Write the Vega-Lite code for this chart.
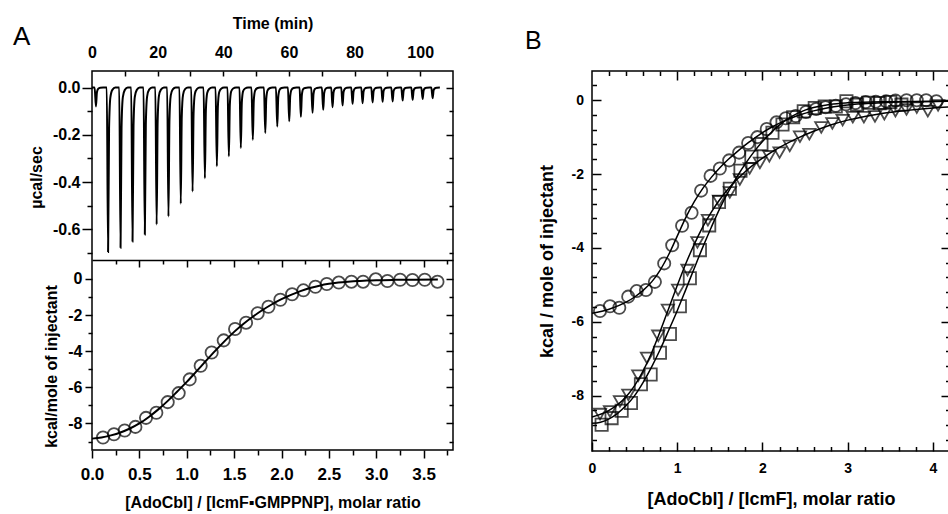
{
"$schema": "https://vega.github.io/schema/vega-lite/v6.json",
"padding": {"left": 12, "top": 14, "right": 0, "bottom": 0},
"background": "white",
"config": {
  "view": {"stroke": "black", "strokeWidth": 1.5},
  "font": "Liberation Sans",
  "axis": {"domain": false, "grid": false, "labelFont": "Liberation Sans", "labelFontWeight": "bold", "labelColor": "black", "labelFontSize": 16, "titleFont": "Liberation Sans", "titleFontWeight": "bold", "titleFontSize": 16, "titleColor": "black", "tickColor": "black", "tickWidth": 1.5, "labelFlush": false, "labelOverlap": false},
  "title": {"font": "Liberation Sans", "fontWeight": "normal", "color": "black"}
},
"datasets": {
  "trace": [
    {"t":0,"v":0},
    {"t":0.8,"v":0},{"t":1.2,"v":-0.08},{"t":1.5,"v":-0.02},{"t":1.9,"v":-0.005},{"t":2.5,"v":-0.001},{"t":3.4,"v":0},
    {"t":4.5,"v":0},{"t":4.9,"v":-0.696},{"t":5.2,"v":-0.174},{"t":5.6,"v":-0.042},{"t":6.2,"v":-0.01},{"t":7.1,"v":0},
    {"t":8.3,"v":0},{"t":8.7,"v":-0.678},{"t":9.0,"v":-0.17},{"t":9.4,"v":-0.041},{"t":10.0,"v":-0.01},{"t":10.9,"v":0},
    {"t":11.95,"v":0},{"t":12.35,"v":-0.652},{"t":12.65,"v":-0.163},{"t":13.05,"v":-0.039},{"t":13.65,"v":-0.01},{"t":14.55,"v":0},
    {"t":15.7,"v":0},{"t":16.1,"v":-0.622},{"t":16.4,"v":-0.156},{"t":16.8,"v":-0.037},{"t":17.4,"v":-0.009},{"t":18.3,"v":0},
    {"t":19.3,"v":0},{"t":19.7,"v":-0.58},{"t":20.0,"v":-0.145},{"t":20.4,"v":-0.035},{"t":21.0,"v":-0.009},{"t":21.9,"v":0},
    {"t":22.9,"v":0},{"t":23.3,"v":-0.546},{"t":23.6,"v":-0.137},{"t":24.0,"v":-0.033},{"t":24.6,"v":-0.008},{"t":25.5,"v":0},
    {"t":26.65,"v":0},{"t":27.05,"v":-0.492},{"t":27.35,"v":-0.123},{"t":27.75,"v":-0.03},{"t":28.35,"v":-0.007},{"t":29.25,"v":0},
    {"t":30.25,"v":0},{"t":30.65,"v":-0.44},{"t":30.95,"v":-0.11},{"t":31.35,"v":-0.026},{"t":31.95,"v":-0.007},{"t":32.85,"v":0},
    {"t":34.0,"v":0},{"t":34.4,"v":-0.384},{"t":34.7,"v":-0.096},{"t":35.1,"v":-0.023},{"t":35.7,"v":-0.006},{"t":36.6,"v":0},
    {"t":37.65,"v":0},{"t":38.05,"v":-0.333},{"t":38.35,"v":-0.083},{"t":38.75,"v":-0.02},{"t":39.35,"v":-0.005},{"t":40.25,"v":0},
    {"t":41.3,"v":0},{"t":41.7,"v":-0.291},{"t":42.0,"v":-0.073},{"t":42.4,"v":-0.017},{"t":43.0,"v":-0.004},{"t":43.9,"v":0},
    {"t":44.95,"v":0},{"t":45.35,"v":-0.256},{"t":45.65,"v":-0.064},{"t":46.05,"v":-0.015},{"t":46.65,"v":-0.004},{"t":47.55,"v":0},
    {"t":48.6,"v":0},{"t":49.0,"v":-0.221},{"t":49.3,"v":-0.055},{"t":49.7,"v":-0.013},{"t":50.3,"v":-0.003},{"t":51.2,"v":0},
    {"t":52.4,"v":0},{"t":52.8,"v":-0.192},{"t":53.1,"v":-0.048},{"t":53.5,"v":-0.012},{"t":54.1,"v":-0.003},{"t":55.0,"v":0},
    {"t":56.05,"v":0},{"t":56.45,"v":-0.165},{"t":56.75,"v":-0.041},{"t":57.15,"v":-0.01},{"t":57.75,"v":-0.002},{"t":58.65,"v":0},
    {"t":59.7,"v":0},{"t":60.1,"v":-0.143},{"t":60.4,"v":-0.036},{"t":60.8,"v":-0.009},{"t":61.4,"v":-0.002},{"t":62.3,"v":0},
    {"t":63.25,"v":0},{"t":63.65,"v":-0.124},{"t":63.95,"v":-0.031},{"t":64.35,"v":-0.007},{"t":64.95,"v":-0.002},{"t":65.85,"v":0},
    {"t":66.8,"v":0},{"t":67.2,"v":-0.107},{"t":67.5,"v":-0.027},{"t":67.9,"v":-0.006},{"t":68.5,"v":-0.002},{"t":69.4,"v":0},
    {"t":70.05,"v":0},{"t":70.45,"v":-0.094},{"t":70.75,"v":-0.024},{"t":71.15,"v":-0.006},{"t":71.75,"v":-0.001},{"t":72.65,"v":0},
    {"t":72.9,"v":0},{"t":73.3,"v":-0.083},{"t":73.6,"v":-0.021},{"t":74.0,"v":-0.005},{"t":74.6,"v":-0.001},{"t":75.5,"v":0},
    {"t":75.95,"v":0},{"t":76.35,"v":-0.076},{"t":76.65,"v":-0.019},{"t":77.05,"v":-0.005},{"t":77.65,"v":-0.001},{"t":78.55,"v":0},
    {"t":79.0,"v":0},{"t":79.4,"v":-0.069},{"t":79.7,"v":-0.017},{"t":80.1,"v":-0.004},{"t":80.7,"v":-0.001},{"t":81.6,"v":0},
    {"t":82.05,"v":0},{"t":82.45,"v":-0.066},{"t":82.75,"v":-0.017},{"t":83.15,"v":-0.004},{"t":83.75,"v":-0.001},{"t":84.65,"v":0},
    {"t":85.1,"v":0},{"t":85.5,"v":-0.063},{"t":85.8,"v":-0.016},{"t":86.2,"v":-0.004},{"t":86.8,"v":-0.001},{"t":87.7,"v":0},
    {"t":88.15,"v":0},{"t":88.55,"v":-0.06},{"t":88.85,"v":-0.015},{"t":89.25,"v":-0.004},{"t":89.85,"v":-0.001},{"t":90.75,"v":0},
    {"t":91.2,"v":0},{"t":91.6,"v":-0.059},{"t":91.9,"v":-0.015},{"t":92.3,"v":-0.004},{"t":92.9,"v":-0.001},{"t":93.8,"v":0},
    {"t":94.25,"v":0},{"t":94.65,"v":-0.055},{"t":94.95,"v":-0.014},{"t":95.35,"v":-0.003},{"t":95.95,"v":-0.001},{"t":96.85,"v":0},
    {"t":97.3,"v":0},{"t":97.7,"v":-0.052},{"t":98.0,"v":-0.013},{"t":98.4,"v":-0.003},{"t":99.0,"v":-0.001},{"t":99.9,"v":0},
    {"t":100.35,"v":0},{"t":100.75,"v":-0.048},{"t":101.05,"v":-0.012},{"t":101.45,"v":-0.003},{"t":102.05,"v":-0.001},{"t":102.95,"v":0},
    {"t":103.4,"v":0},{"t":103.8,"v":-0.045},{"t":104.1,"v":-0.011},{"t":104.5,"v":-0.003},{"t":105.1,"v":-0.001},{"t":106.0,"v":0}
  ],
  "itcA": [
    {"x":0.116,"y":-8.78},{"x":0.232,"y":-8.60},{"x":0.345,"y":-8.39},{"x":0.458,"y":-8.19},{"x":0.570,"y":-7.69},
    {"x":0.679,"y":-7.41},{"x":0.799,"y":-6.82},{"x":0.915,"y":-6.32},{"x":1.031,"y":-5.56},{"x":1.147,"y":-4.81},
    {"x":1.263,"y":-4.07},{"x":1.390,"y":-3.40},{"x":1.510,"y":-2.77},{"x":1.626,"y":-2.42},{"x":1.749,"y":-1.90},
    {"x":1.862,"y":-1.54},{"x":1.988,"y":-1.15},{"x":2.112,"y":-0.85},{"x":2.231,"y":-0.63},{"x":2.358,"y":-0.43},
    {"x":2.478,"y":-0.28},{"x":2.605,"y":-0.20},{"x":2.738,"y":-0.15},{"x":2.861,"y":-0.15},{"x":2.995,"y":-0.02},
    {"x":3.118,"y":-0.11},{"x":3.252,"y":-0.04},{"x":3.382,"y":-0.06},{"x":3.512,"y":-0.04},{"x":3.646,"y":-0.15}
  ],
  "fitA": [
    {"x":0,"y":-8.84},{"x":0.1,"y":-8.78},{"x":0.2,"y":-8.66},{"x":0.3,"y":-8.50},{"x":0.4,"y":-8.28},{"x":0.5,"y":-8.00},
    {"x":0.6,"y":-7.64},{"x":0.7,"y":-7.22},{"x":0.8,"y":-6.75},{"x":0.9,"y":-6.23},{"x":1.0,"y":-5.70},{"x":1.1,"y":-5.13},
    {"x":1.2,"y":-4.55},{"x":1.3,"y":-3.98},{"x":1.4,"y":-3.44},{"x":1.5,"y":-2.93},{"x":1.6,"y":-2.48},{"x":1.7,"y":-2.08},
    {"x":1.8,"y":-1.72},{"x":1.9,"y":-1.40},{"x":2.0,"y":-1.12},{"x":2.1,"y":-0.88},{"x":2.2,"y":-0.67},{"x":2.3,"y":-0.50},
    {"x":2.4,"y":-0.37},{"x":2.5,"y":-0.27},{"x":2.6,"y":-0.20},{"x":2.7,"y":-0.15},{"x":2.8,"y":-0.11},{"x":2.9,"y":-0.09},
    {"x":3.0,"y":-0.07},{"x":3.2,"y":-0.05},{"x":3.4,"y":-0.04},{"x":3.65,"y":-0.03}
  ],
  "bpts": [
    {"s":"c","x":0.094,"y":-5.71},{"s":"c","x":0.211,"y":-5.58},{"s":"c","x":0.320,"y":-5.62},{"s":"c","x":0.425,"y":-5.32},
    {"s":"c","x":0.524,"y":-5.17},{"s":"c","x":0.633,"y":-5.14},{"s":"c","x":0.738,"y":-4.92},{"s":"c","x":0.847,"y":-4.42},
    {"s":"c","x":0.941,"y":-3.93},{"s":"c","x":1.057,"y":-3.40},{"s":"c","x":1.168,"y":-3.05},{"s":"c","x":1.280,"y":-2.45},
    {"s":"c","x":1.391,"y":-2.05},{"s":"c","x":1.500,"y":-1.85},{"s":"c","x":1.609,"y":-1.63},{"s":"c","x":1.726,"y":-1.42},
    {"s":"c","x":1.832,"y":-1.16},{"s":"c","x":1.940,"y":-1.00},{"s":"c","x":2.050,"y":-0.78},{"s":"c","x":2.165,"y":-0.60},
    {"s":"c","x":2.273,"y":-0.49},{"s":"c","x":2.390,"y":-0.43},{"s":"c","x":2.510,"y":-0.32},{"s":"c","x":2.630,"y":-0.24},
    {"s":"c","x":2.740,"y":-0.19},{"s":"c","x":2.860,"y":-0.15},{"s":"c","x":2.980,"y":-0.11},{"s":"c","x":3.090,"y":-0.08},
    {"s":"c","x":3.210,"y":-0.05},{"s":"c","x":3.330,"y":-0.04},{"s":"c","x":3.450,"y":-0.03},{"s":"c","x":3.560,"y":-0.01},
    {"s":"c","x":3.690,"y":0.0},{"s":"c","x":3.810,"y":0.0},{"s":"c","x":3.920,"y":0.0},{"s":"c","x":4.040,"y":-0.03},
    {"s":"s","x":0.113,"y":-8.79},{"s":"s","x":0.230,"y":-8.61},{"s":"s","x":0.348,"y":-8.41},{"s":"s","x":0.457,"y":-8.20},
    {"s":"s","x":0.574,"y":-7.69},{"s":"s","x":0.688,"y":-7.43},{"s":"s","x":0.797,"y":-6.84},{"s":"s","x":0.914,"y":-6.33},
    {"s":"s","x":1.031,"y":-5.58},{"s":"s","x":1.148,"y":-4.82},{"s":"s","x":1.266,"y":-4.06},{"s":"s","x":1.375,"y":-3.39},
    {"s":"s","x":1.490,"y":-2.76},{"s":"s","x":1.617,"y":-2.40},{"s":"s","x":1.742,"y":-1.91},{"s":"s","x":1.870,"y":-1.53},
    {"s":"s","x":1.988,"y":-1.19},{"s":"s","x":2.117,"y":-0.88},{"s":"s","x":2.235,"y":-0.66},{"s":"s","x":2.360,"y":-0.46},
    {"s":"s","x":2.484,"y":-0.30},{"s":"s","x":2.613,"y":-0.21},{"s":"s","x":2.730,"y":-0.17},{"s":"s","x":2.860,"y":-0.17},
    {"s":"s","x":2.985,"y":-0.03},{"s":"s","x":3.110,"y":-0.12},{"s":"s","x":3.240,"y":-0.07},{"s":"s","x":3.375,"y":-0.08},
    {"s":"s","x":3.500,"y":-0.05},{"s":"s","x":3.630,"y":-0.12},
    {"s":"t","x":0.094,"y":-8.50},{"s":"t","x":0.211,"y":-8.43},{"s":"t","x":0.328,"y":-8.16},{"s":"t","x":0.426,"y":-7.98},
    {"s":"t","x":0.543,"y":-7.46},{"s":"t","x":0.645,"y":-6.98},{"s":"t","x":0.777,"y":-6.38},{"s":"t","x":0.890,"y":-5.68},
    {"s":"t","x":1.010,"y":-5.14},{"s":"t","x":1.120,"y":-4.60},{"s":"t","x":1.236,"y":-3.85},{"s":"t","x":1.360,"y":-3.25},
    {"s":"t","x":1.490,"y":-2.73},{"s":"t","x":1.617,"y":-2.50},{"s":"t","x":1.734,"y":-2.15},{"s":"t","x":1.850,"y":-1.85},
    {"s":"t","x":1.970,"y":-1.70},{"s":"t","x":2.080,"y":-1.52},{"s":"t","x":2.200,"y":-1.42},{"s":"t","x":2.320,"y":-1.24},
    {"s":"t","x":2.440,"y":-0.99},{"s":"t","x":2.550,"y":-0.92},{"s":"t","x":2.690,"y":-0.74},{"s":"t","x":2.820,"y":-0.63},
    {"s":"t","x":2.940,"y":-0.54},{"s":"t","x":3.060,"y":-0.46},{"s":"t","x":3.190,"y":-0.46},{"s":"t","x":3.320,"y":-0.44},
    {"s":"t","x":3.430,"y":-0.38},{"s":"t","x":3.560,"y":-0.30},{"s":"t","x":3.690,"y":-0.25},{"s":"t","x":3.810,"y":-0.20},
    {"s":"t","x":3.940,"y":-0.30},{"s":"t","x":4.060,"y":-0.14}
  ],
  "bfit": [
    {"s":"c","x":0,"y":-5.77},{"s":"c","x":0.2,"y":-5.66},{"s":"c","x":0.4,"y":-5.47},{"s":"c","x":0.5,"y":-5.33},
    {"s":"c","x":0.6,"y":-5.15},{"s":"c","x":0.7,"y":-4.92},{"s":"c","x":0.8,"y":-4.60},{"s":"c","x":0.9,"y":-4.18},
    {"s":"c","x":1.0,"y":-3.68},{"s":"c","x":1.1,"y":-3.18},{"s":"c","x":1.2,"y":-2.75},{"s":"c","x":1.3,"y":-2.39},
    {"s":"c","x":1.4,"y":-2.09},{"s":"c","x":1.5,"y":-1.83},{"s":"c","x":1.6,"y":-1.60},{"s":"c","x":1.7,"y":-1.40},
    {"s":"c","x":1.8,"y":-1.21},{"s":"c","x":1.9,"y":-1.04},{"s":"c","x":2.0,"y":-0.88},{"s":"c","x":2.1,"y":-0.74},
    {"s":"c","x":2.2,"y":-0.62},{"s":"c","x":2.4,"y":-0.43},{"s":"c","x":2.6,"y":-0.29},{"s":"c","x":2.8,"y":-0.19},
    {"s":"c","x":3.0,"y":-0.13},{"s":"c","x":3.3,"y":-0.08},{"s":"c","x":3.6,"y":-0.05},{"s":"c","x":4.2,"y":-0.03},
    {"s":"s","x":0,"y":-8.75},{"s":"s","x":0.1,"y":-8.72},{"s":"s","x":0.2,"y":-8.63},{"s":"s","x":0.3,"y":-8.48},
    {"s":"s","x":0.4,"y":-8.27},{"s":"s","x":0.5,"y":-8.00},{"s":"s","x":0.6,"y":-7.64},{"s":"s","x":0.7,"y":-7.22},
    {"s":"s","x":0.8,"y":-6.75},{"s":"s","x":0.9,"y":-6.23},{"s":"s","x":1.0,"y":-5.70},{"s":"s","x":1.1,"y":-5.13},
    {"s":"s","x":1.2,"y":-4.55},{"s":"s","x":1.3,"y":-3.98},{"s":"s","x":1.4,"y":-3.44},{"s":"s","x":1.5,"y":-2.93},
    {"s":"s","x":1.6,"y":-2.48},{"s":"s","x":1.7,"y":-2.08},{"s":"s","x":1.8,"y":-1.72},{"s":"s","x":1.9,"y":-1.40},
    {"s":"s","x":2.0,"y":-1.12},{"s":"s","x":2.1,"y":-0.88},{"s":"s","x":2.2,"y":-0.67},{"s":"s","x":2.3,"y":-0.50},
    {"s":"s","x":2.4,"y":-0.37},{"s":"s","x":2.5,"y":-0.27},{"s":"s","x":2.6,"y":-0.20},{"s":"s","x":2.7,"y":-0.15},
    {"s":"s","x":2.8,"y":-0.11},{"s":"s","x":3.0,"y":-0.07},{"s":"s","x":3.4,"y":-0.04},{"s":"s","x":4.2,"y":-0.03},
    {"s":"t","x":0,"y":-8.58},{"s":"t","x":0.2,"y":-8.40},{"s":"t","x":0.4,"y":-8.03},{"s":"t","x":0.5,"y":-7.73},
    {"s":"t","x":0.6,"y":-7.33},{"s":"t","x":0.7,"y":-6.84},{"s":"t","x":0.8,"y":-6.26},{"s":"t","x":0.9,"y":-5.64},
    {"s":"t","x":1.0,"y":-5.02},{"s":"t","x":1.1,"y":-4.43},{"s":"t","x":1.2,"y":-3.90},{"s":"t","x":1.3,"y":-3.43},
    {"s":"t","x":1.4,"y":-3.03},{"s":"t","x":1.5,"y":-2.69},{"s":"t","x":1.6,"y":-2.40},{"s":"t","x":1.7,"y":-2.15},
    {"s":"t","x":1.8,"y":-1.93},{"s":"t","x":1.9,"y":-1.74},{"s":"t","x":2.0,"y":-1.57},{"s":"t","x":2.2,"y":-1.28},
    {"s":"t","x":2.4,"y":-1.04},{"s":"t","x":2.6,"y":-0.84},{"s":"t","x":2.8,"y":-0.67},{"s":"t","x":3.0,"y":-0.54},
    {"s":"t","x":3.2,"y":-0.44},{"s":"t","x":3.4,"y":-0.36},{"s":"t","x":3.6,"y":-0.30},{"s":"t","x":3.8,"y":-0.25},
    {"s":"t","x":4.0,"y":-0.21},{"s":"t","x":4.2,"y":-0.18}
  ]
},
"hconcat": [
  {
    "width": 361, "height": 379,
    "title": {"text": "A", "anchor": "start", "frame": "group", "fontSize": 26, "fontWeight": "normal", "dx": -79, "dy": 38},
    "layer": [
      {
        "data": {"name": "trace"},
        "layer": [
          {"mark": {"type": "line", "color": "black", "strokeWidth": 2, "interpolate": "monotone"},
           "encoding": {
             "x": {"field": "t", "type": "quantitative", "scale": {"domain": [0, 110], "nice": false, "zero": false},
                   "axis": {"orient": "top", "values": [0, 20, 40, 60, 80, 100], "ticks": false, "labelPadding": 10.5, "title": "Time (min)", "titlePadding": 13}},
             "y": {"field": "v", "type": "quantitative", "scale": {"domain": [-1.534, 0.07], "nice": false, "zero": false},
                   "axis": {"orient": "left", "values": [0, -0.2, -0.4, -0.6], "format": ".1f", "labelExpr": "replace(datum.label, '−', '-')", "tickSize": 10, "labelPadding": 2, "title": "µcal/sec", "titlePadding": 8, "titleY": 106}}
           }},
          {"mark": {"type": "line", "opacity": 0},
           "encoding": {
             "x": {"field": "t", "type": "quantitative", "axis": {"orient": "top", "values": [10, 20, 30, 40, 50, 60, 70, 80, 90, 100], "tickSize": -5, "labels": false, "title": null}},
             "y": {"field": "v", "type": "quantitative", "axis": {"orient": "left", "values": [-0.1, -0.3, -0.5, -0.7], "tickSize": 5, "labels": false, "title": null}}
           }},
          {"mark": {"type": "line", "opacity": 0},
           "encoding": {
             "x": {"field": "t", "type": "quantitative", "axis": null},
             "y": {"field": "v", "type": "quantitative", "axis": {"orient": "right", "values": [0, -0.2, -0.4, -0.6], "tickSize": -7, "labels": false, "title": null}}
           }},
          {"mark": {"type": "line", "opacity": 0},
           "encoding": {
             "x": {"field": "t", "type": "quantitative", "axis": null},
             "y": {"field": "v", "type": "quantitative", "axis": {"orient": "right", "values": [-0.1, -0.3, -0.5, -0.7], "tickSize": -4, "labels": false, "title": null}}
           }}
        ],
        "resolve": {"axis": {"x": "independent", "y": "independent"}}
      },
      {
        "layer": [
          {"data": {"name": "itcA"},
           "mark": {"type": "point", "shape": "circle", "filled": false, "color": "black", "size": 150, "strokeWidth": 1.8},
           "encoding": {
             "x": {"field": "x", "type": "quantitative", "scale": {"domain": [0, 3.81], "nice": false, "zero": false},
                   "axis": {"orient": "bottom", "values": [0, 0.5, 1, 1.5, 2, 2.5, 3, 3.5], "format": ".1f", "tickSize": 8, "labelPadding": 8.5, "labelFontSize": 17, "title": "[AdoCbl] / [IcmF▪GMPPNP], molar ratio", "titlePadding": 12}},
             "y": {"field": "y", "type": "quantitative", "scale": {"domain": [-9.47, 11.515], "nice": false, "zero": false},
                   "axis": {"orient": "left", "values": [0, -2, -4, -6, -8], "labelExpr": "replace(datum.label, '−', '-')", "tickSize": 7, "labelPadding": 3, "title": "kcal/mole of injectant", "titlePadding": 8, "titleY": 295}}
           }},
          {"data": {"name": "fitA"},
           "mark": {"type": "line", "color": "black", "strokeWidth": 2, "interpolate": "monotone"},
           "encoding": {
             "x": {"field": "x", "type": "quantitative", "axis": {"orient": "bottom", "values": [0.25, 0.75, 1.25, 1.75, 2.25, 2.75, 3.25, 3.75], "tickSize": 5, "labels": false, "title": null}},
             "y": {"field": "y", "type": "quantitative", "axis": {"orient": "left", "values": [-1, -3, -5, -7, -9], "tickSize": 4, "labels": false, "title": null}}
           }},
          {"data": {"name": "fitA"},
           "mark": {"type": "line", "opacity": 0},
           "encoding": {
             "x": {"field": "x", "type": "quantitative", "axis": {"orient": "top", "offset": -189, "domain": true, "domainColor": "black", "domainWidth": 1.5, "values": [0.5, 1, 1.5, 2, 2.5, 3, 3.5], "tickSize": -7, "labels": false, "title": null}},
             "y": {"field": "y", "type": "quantitative", "axis": {"orient": "right", "values": [0, -2, -4, -6, -8], "tickSize": -7, "labels": false, "title": null}}
           }},
          {"data": {"name": "fitA"},
           "mark": {"type": "line", "opacity": 0},
           "encoding": {
             "x": {"field": "x", "type": "quantitative", "axis": {"orient": "top", "offset": -189, "values": [0.25, 0.75, 1.25, 1.75, 2.25, 2.75, 3.25, 3.75], "tickSize": -4, "labels": false, "title": null}},
             "y": {"field": "y", "type": "quantitative", "axis": {"orient": "right", "values": [-1, -3, -5, -7, -9], "tickSize": -4, "labels": false, "title": null}}
           }}
        ],
        "resolve": {"axis": {"x": "independent", "y": "independent"}}
      }
    ],
    "resolve": {"scale": {"x": "independent", "y": "independent"}, "axis": {"x": "independent", "y": "independent"}}
  },
  {
    "width": 358, "height": 380,
    "title": {"text": "B", "anchor": "start", "frame": "group", "fontSize": 25, "fontWeight": "normal", "dx": -67, "dy": -12},
    "layer": [
      {"data": {"name": "bfit"},
       "mark": {"type": "line", "color": "black", "strokeWidth": 1.5, "interpolate": "monotone"},
       "encoding": {
         "x": {"field": "x", "type": "quantitative", "scale": {"domain": [0, 4.2], "nice": false, "zero": false},
               "axis": {"orient": "bottom", "values": [0, 1, 2, 3, 4], "ticks": false, "labelPadding": 10.5, "labelFontSize": 14, "title": "[AdoCbl] / [IcmF], molar ratio", "titleFontSize": 18, "titlePadding": 15}},
         "y": {"field": "y", "type": "quantitative", "scale": {"domain": [-9.5, 0.79], "nice": false, "zero": false},
               "axis": {"orient": "left", "values": [0, -2, -4, -6, -8], "labelExpr": "replace(datum.label, '−', '-')", "ticks": false, "labelPadding": 8.5, "labelFontSize": 14, "title": "kcal / mole of injectant", "titleFontSize": 18, "titlePadding": 15}},
         "detail": {"field": "s", "type": "nominal"}
       }},
      {"data": {"name": "bpts"},
       "mark": {"type": "point", "filled": false, "color": "black", "size": 150, "strokeWidth": 1.8},
       "encoding": {
         "x": {"field": "x", "type": "quantitative", "axis": {"orient": "bottom", "values": [0, 1, 2, 3, 4], "tickSize": -9, "labels": false, "title": null}},
         "y": {"field": "y", "type": "quantitative", "axis": {"orient": "left", "values": [0, -2, -4, -6, -8], "tickSize": -9, "labels": false, "title": null}},
         "shape": {"field": "s", "type": "nominal", "scale": {"domain": ["c", "s", "t"], "range": ["circle", "square", "triangle-down"]}, "legend": null}
       }},
      {"data": {"name": "bfit"},
       "mark": {"type": "line", "opacity": 0},
       "encoding": {
         "x": {"field": "x", "type": "quantitative", "axis": {"orient": "bottom", "values": [0.2, 0.4, 0.6, 0.8, 1.2, 1.4, 1.6, 1.8, 2.2, 2.4, 2.6, 2.8, 3.2, 3.4, 3.6, 3.8], "tickSize": -4.5, "labels": false, "title": null}},
         "y": {"field": "y", "type": "quantitative", "axis": {"orient": "left", "values": [0.4, -0.4, -0.8, -1.2, -1.6, -2.4, -2.8, -3.2, -3.6, -4.4, -4.8, -5.2, -5.6, -6.4, -6.8, -7.2, -7.6, -8.4, -8.8, -9.2], "tickSize": -4.5, "labels": false, "title": null}}
       }},
      {"data": {"name": "bfit"},
       "mark": {"type": "line", "opacity": 0},
       "encoding": {
         "x": {"field": "x", "type": "quantitative", "axis": {"orient": "top", "values": [1, 2, 3, 4], "tickSize": -9, "labels": false, "title": null}},
         "y": {"field": "y", "type": "quantitative", "axis": {"orient": "right", "values": [0, -2, -4, -6, -8], "tickSize": -9, "labels": false, "title": null}}
       }},
      {"data": {"name": "bfit"},
       "mark": {"type": "line", "opacity": 0},
       "encoding": {
         "x": {"field": "x", "type": "quantitative", "axis": {"orient": "top", "values": [0.2, 0.4, 0.6, 0.8, 1.2, 1.4, 1.6, 1.8, 2.2, 2.4, 2.6, 2.8, 3.2, 3.4, 3.6, 3.8], "tickSize": -4.5, "labels": false, "title": null}},
         "y": {"field": "y", "type": "quantitative", "axis": {"orient": "right", "values": [0.4, -0.4, -0.8, -1.2, -1.6, -2.4, -2.8, -3.2, -3.6, -4.4, -4.8, -5.2, -5.6, -6.4, -6.8, -7.2, -7.6, -8.4, -8.8, -9.2], "tickSize": -4.5, "labels": false, "title": null}}
       }}
    ],
    "resolve": {"axis": {"x": "independent", "y": "independent"}}
  }
],
"spacing": 139,
"bounds": "flush"
}
